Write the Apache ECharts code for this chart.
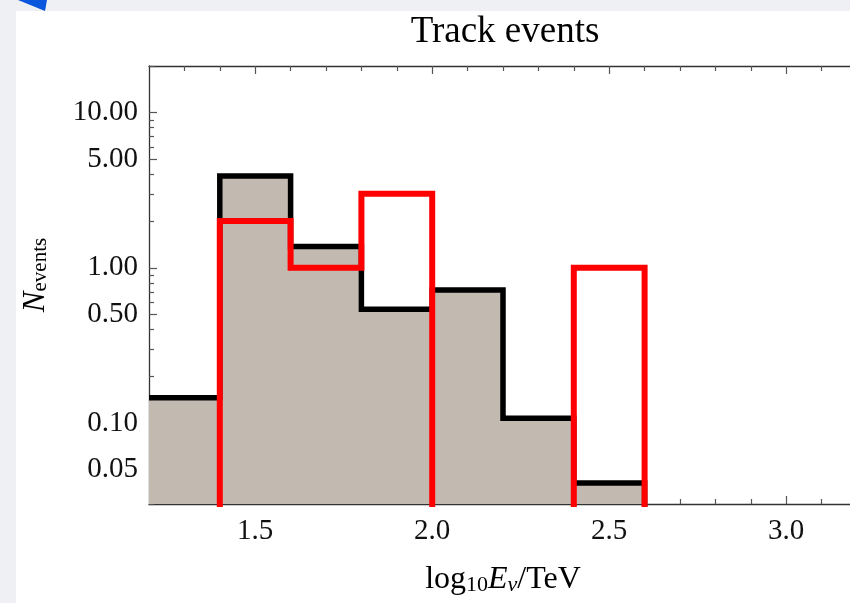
<!DOCTYPE html>
<html>
<head>
<meta charset="utf-8">
<script src="https://cdn.jsdelivr.net/npm/echarts@6/dist/echarts.min.js"></script>
<style>
  html, body { margin: 0; padding: 0; width: 850px; height: 603px; overflow: hidden; background: #eef0f4; }
  #panel { position: absolute; left: 16px; top: 11px; right: 0; bottom: 0; background: #fff; }
  #corner { position: absolute; left: 0; top: 0; width: 50px; height: 12px; background: #0a56dc;
            clip-path: polygon(18px 0, 47px 0, 45px 11px); }
  #chart { position: absolute; left: 0; top: 0; width: 880px; height: 603px; }
</style>
</head>
<body>
<div id="panel"></div>
<div id="corner"></div>
<div id="chart"></div>
<script>
// histogram bins in log10(E/TeV), width 0.2
const binEdges = [1.2, 1.4, 1.6, 1.8, 2.0, 2.2, 2.4, 2.6];
const expectedEvents = [0.145, 3.9, 1.37, 0.54, 0.72, 0.107, 0.041]; // grey filled, black outline
const observedEvents = [0, 2, 1, 3, 0, 0, 1];                        // red outline

const xMajorTicks = [1.5, 2.0, 2.5, 3.0];
const xMinorTicks = [1.3, 1.4, 1.6, 1.7, 1.8, 1.9, 2.1, 2.2, 2.3, 2.4, 2.6, 2.7, 2.8, 2.9, 3.1];
const yMajorTicks = [0.05, 0.1, 0.5, 1, 5, 10];
const yMinorTicks = [0.03, 0.04, 0.06, 0.07, 0.08, 0.09, 0.2, 0.3, 0.4, 0.6, 0.7, 0.8, 0.9,
                     2, 3, 4, 6, 7, 8, 9, 20];

const FONT = '"Liberation Serif", "DejaVu Serif", serif';
const FLOOR = 1e-3; // empty bins: drop below the log axis (clipped)

// points at each bin start + closing edge; drawn with step:'end'
function stepData(vals) {
  const pts = vals.map((v, i) => [binEdges[i], v > 0 ? v : FLOOR]);
  pts.push([binEdges[vals.length], FLOOR]);
  return pts;
}

const axisLineStyle = { color: '#333', width: 1.3 };
const tickStyle = { color: '#555', width: 1.2 };

const xBase = { type: 'value', min: 1.2, max: 3.2, gridIndex: 0, splitLine: { show: false } };
const yBase = { type: 'log', logBase: 10, min: 0.03, max: 20, gridIndex: 0, splitLine: { show: false } };

const chart = echarts.init(document.getElementById('chart'), null, { renderer: 'canvas' });
chart.setOption({
  backgroundColor: 'transparent',
  animation: false,
  grid: { left: 149, top: 66, width: 708, height: 438, containLabel: false, outerBoundsMode: 'none' },
  graphic: [{
    type: 'text', x: 505, y: 14,
    style: { text: 'Track events', align: 'center', verticalAlign: 'top',
             fontFamily: FONT, fontSize: 37, fill: '#000' }
  }],
  xAxis: [
    {
      ...xBase, position: 'bottom',
      axisLine: { show: true, lineStyle: axisLineStyle },
      axisTick: { show: true, inside: true, length: 8, customValues: xMajorTicks, lineStyle: tickStyle },
      axisLabel: { customValues: xMajorTicks, formatter: v => v.toFixed(1), margin: 13,
                   fontFamily: FONT, fontSize: 29, color: '#111' },
      name: '{t|log}{s|10}{i|E}{si|ν}{t|/TeV}',
      nameLocation: 'middle', nameGap: 60,
      nameTextStyle: {
        rich: {
          t:  { fontFamily: FONT, fontSize: 32, lineHeight: 32, color: '#000', verticalAlign: 'top', padding: [0, 0, 8, 0] },
          i:  { fontFamily: FONT, fontSize: 32, lineHeight: 32, color: '#000', fontStyle: 'italic', verticalAlign: 'top', padding: [0, 0, 8, 0] },
          s:  { fontFamily: FONT, fontSize: 22, lineHeight: 22, color: '#000', verticalAlign: 'bottom' },
          si: { fontFamily: FONT, fontSize: 22, lineHeight: 22, color: '#000', fontStyle: 'italic', verticalAlign: 'bottom' }
        }
      }
    },
    {
      ...xBase, position: 'bottom',
      axisLine: { show: false },
      axisTick: { show: true, inside: true, length: 5, customValues: xMinorTicks, lineStyle: tickStyle },
      axisLabel: { show: false }
    },
    {
      ...xBase, position: 'top',
      axisLine: { show: true, lineStyle: axisLineStyle },
      axisTick: { show: true, inside: true, length: 8, customValues: xMajorTicks, lineStyle: tickStyle },
      axisLabel: { show: false }
    },
    {
      ...xBase, position: 'top',
      axisLine: { show: false },
      axisTick: { show: true, inside: true, length: 5, customValues: xMinorTicks, lineStyle: tickStyle },
      axisLabel: { show: false }
    }
  ],
  yAxis: [
    {
      ...yBase, position: 'left',
      axisLine: { show: true, lineStyle: axisLineStyle },
      axisTick: { show: true, inside: true, length: 8, customValues: yMajorTicks, lineStyle: tickStyle },
      axisLabel: { customValues: yMajorTicks, formatter: v => Number(v).toFixed(2), margin: 11,
                   fontFamily: FONT, fontSize: 29, color: '#111' },
      name: '{n|N}{s|events}',
      nameLocation: 'middle', nameGap: 98,
      nameTextStyle: {
        padding: [0, 0, 0, 20],
        rich: {
          n: { fontFamily: FONT, fontSize: 31, lineHeight: 31, color: '#000', fontStyle: 'italic', verticalAlign: 'top', padding: [0, 0, 7, 0] },
          s: { fontFamily: FONT, fontSize: 21, lineHeight: 21, color: '#000', verticalAlign: 'bottom' }
        }
      }
    },
    {
      ...yBase, position: 'left',
      axisLine: { show: false },
      axisTick: { show: true, inside: true, length: 5, customValues: yMinorTicks, lineStyle: tickStyle },
      axisLabel: { show: false }
    }
  ],
  series: [
    {
      name: 'expected',
      type: 'line', step: 'end',
      xAxisIndex: 0, yAxisIndex: 0,
      data: stepData(expectedEvents),
      showSymbol: false, symbol: 'none',
      lineStyle: { color: '#000', width: 5.5, join: 'miter', cap: 'butt' },
      areaStyle: { color: '#c2b9b0', opacity: 1, origin: 'start' },
      z: 2
    },
    {
      name: 'observed',
      type: 'line', step: 'end',
      xAxisIndex: 0, yAxisIndex: 0,
      data: stepData(observedEvents),
      showSymbol: false, symbol: 'none',
      lineStyle: { color: '#ff0000', width: 6, join: 'miter', cap: 'butt' },
      z: 3
    }
  ]
});
</script>
</body>
</html>
